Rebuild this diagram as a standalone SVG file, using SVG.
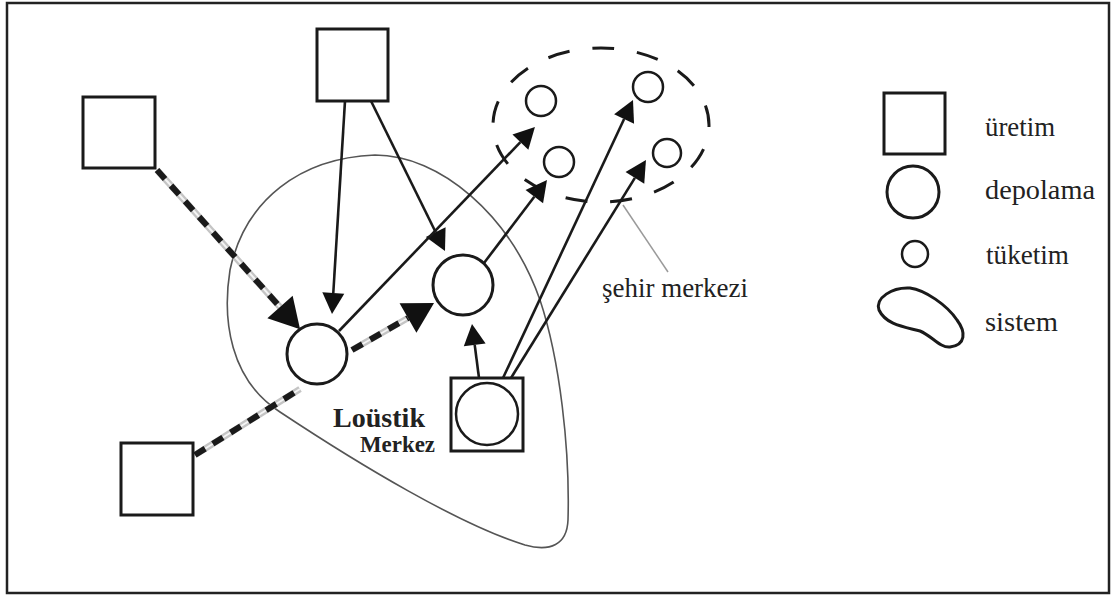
<svg xmlns="http://www.w3.org/2000/svg" width="1113" height="596" viewBox="0 0 1113 596">
  <style>
    .frame { fill: #fff; stroke: #222; stroke-width: 2.5; }
    .node { fill: #fff; stroke: #1a1a1a; stroke-width: 3; }
    .thin { fill: #fff; stroke: #1a1a1a; stroke-width: 2.5; }
    .system { fill: none; stroke: #555; stroke-width: 1.6; }
    .city { fill: none; stroke: #1a1a1a; stroke-width: 3; stroke-dasharray: 22 23; stroke-dashoffset: 20; }
    .flow { fill: none; stroke: #1a1a1a; stroke-width: 2.6; }
    .rail { fill: none; stroke: #c4c4c4; stroke-width: 6.5; }
    .rail-core { fill: none; stroke: #f4f4f4; stroke-width: 2; }
    .ties { fill: none; stroke: #1a1a1a; stroke-width: 6; stroke-dasharray: 12 9; }
    .leader { fill: none; stroke: #9a9a9a; stroke-width: 1.5; }
    text { fill: #222; }
  </style>
  <defs>
    <marker id="arrow" markerUnits="userSpaceOnUse" viewBox="0 -11 21 22" markerWidth="21" markerHeight="22" refX="0" refY="0" orient="auto" overflow="visible">
      <path d="M0,-11 L21,0 L0,11 Z" fill="#111"/>
    </marker>
    <marker id="arrow-big" markerUnits="userSpaceOnUse" viewBox="0 -17 30 34" markerWidth="30" markerHeight="34" refX="0" refY="0" orient="auto" overflow="visible">
      <path d="M0,-17 L30,0 L0,17 Z" fill="#111"/>
    </marker>
  </defs>

  <rect class="frame" x="7" y="3" width="1102" height="590"/>

  <!-- system boundary -->
  <path id="system-boundary" class="system" d="M375,155 C440,155 510,215 540,300 C560,360 570,450 568,520 C567,545 550,552 525,545 C460,525 360,465 280,412 C230,380 222,320 230,270 C245,200 300,158 375,155 Z"/>

  <!-- city centre boundary -->
  <ellipse id="city-centre" class="city" cx="601" cy="125" rx="108" ry="77" pathLength="585"/>

  <g id="connectors">
    <!-- transport links (rail style) -->
    <g id="link-p1-d1">
      <path class="rail" d="M157,170 L280,307"/>
      <path class="rail-core" d="M157,170 L280,307"/>
      <path class="ties" d="M157,170 L280,307" marker-end="url(#arrow-big)"/>
    </g>
    <g id="link-d1-d2">
      <path class="rail" d="M352,350 L408,318"/>
      <path class="rail-core" d="M352,350 L408,318"/>
      <path class="ties" d="M352,350 L408,318" marker-end="url(#arrow-big)"/>
    </g>
    <g id="link-p3-d1">
      <path class="rail" d="M195,455 L300,389"/>
      <path class="rail-core" d="M195,455 L300,389"/>
      <path class="ties" d="M195,455 L300,389"/>
    </g>
    <!-- direct flows -->
    <path class="flow" d="M345,101 L333.3,293" marker-end="url(#arrow)"/>
    <path class="flow" d="M371,101 L435.7,232.2" marker-end="url(#arrow)"/>
    <path class="flow" d="M339,331 L520.4,142.1" marker-end="url(#arrow)"/>
    <path class="flow" d="M484,263 L534.3,196.7" marker-end="url(#arrow)"/>
    <path class="flow" d="M479,378 L474.7,344.8" marker-end="url(#arrow)"/>
    <path class="flow" d="M503,378 L624.1,119" marker-end="url(#arrow)"/>
    <path class="flow" d="M511,378 L634.9,177.9" marker-end="url(#arrow)"/>
    <path class="leader" d="M623,205 L668,272"/>
  </g>

  <!-- production -->
  <g id="production-1"><rect class="node" x="83" y="97" width="72" height="71"/></g>
  <g id="production-2"><rect class="node" x="317" y="29" width="71" height="72"/></g>
  <g id="production-3"><rect class="node" x="121" y="443" width="72" height="72"/></g>

  <!-- storage -->
  <g id="storage-1"><circle class="node" cx="317" cy="354" r="30"/></g>
  <g id="storage-2"><circle class="node" cx="463" cy="285" r="30"/></g>

  <!-- logistics centre -->
  <g id="logistics-centre">
    <rect class="node" x="451" y="378" width="72" height="73"/>
    <circle class="thin" cx="487" cy="414" r="31"/>
    <text x="333" y="427" font-family="'Liberation Serif', 'DejaVu Serif', serif" font-weight="bold" font-size="27" textLength="92" lengthAdjust="spacingAndGlyphs">Loüstik</text>
    <text x="360" y="452" font-family="'Liberation Serif', 'DejaVu Serif', serif" font-weight="bold" font-size="23" textLength="75" lengthAdjust="spacingAndGlyphs">Merkez</text>
  </g>

  <!-- consumption -->
  <g id="consumer-1"><circle class="thin" cx="541" cy="101" r="15"/></g>
  <g id="consumer-2"><circle class="thin" cx="559" cy="162" r="15"/></g>
  <g id="consumer-3"><circle class="thin" cx="648" cy="87" r="15"/></g>
  <g id="consumer-4"><circle class="thin" cx="667" cy="153" r="14"/></g>

  <g id="city-label"><text x="602" y="297" font-family="'Liberation Serif', 'DejaVu Serif', serif" font-size="27" textLength="146" lengthAdjust="spacingAndGlyphs">şehir merkezi</text></g>

  <!-- legend -->
  <g id="legend-production">
    <rect class="node" x="884" y="93" width="61" height="61"/>
    <text x="985" y="136" font-family="'Liberation Serif', 'DejaVu Serif', serif" font-size="27" textLength="70" lengthAdjust="spacingAndGlyphs">üretim</text>
  </g>
  <g id="legend-storage">
    <circle class="node" cx="913" cy="192" r="26"/>
    <text x="985" y="199" font-family="'Liberation Serif', 'DejaVu Serif', serif" font-size="27" textLength="110" lengthAdjust="spacingAndGlyphs">depolama</text>
  </g>
  <g id="legend-consumption">
    <circle class="thin" cx="915" cy="254" r="13"/>
    <text x="986" y="264" font-family="'Liberation Serif', 'DejaVu Serif', serif" font-size="27" textLength="83" lengthAdjust="spacingAndGlyphs">tüketim</text>
  </g>
  <g id="legend-system">
    <path class="node" fill="none" d="M910,288 C925,290 947,305 957,320 C966,332 966,345 950,347 C940,348 932,336 920,331 C905,327 886,325 879,310 C875,298 892,287 910,288 Z"/>
    <text x="985" y="331" font-family="'Liberation Serif', 'DejaVu Serif', serif" font-size="27" textLength="73" lengthAdjust="spacingAndGlyphs">sistem</text>
  </g>
</svg>
